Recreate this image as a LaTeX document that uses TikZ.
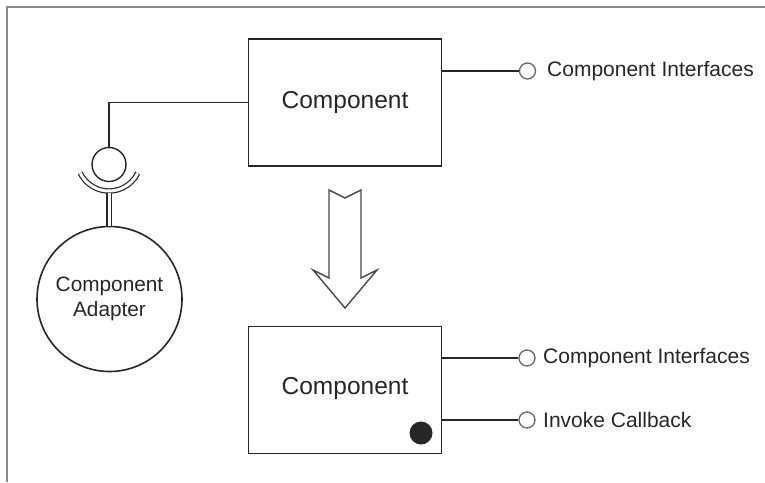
\documentclass[tikz,border=0pt]{standalone}
\usepackage{fontspec}
\setmainfont{Liberation Sans}
\usetikzlibrary{calc}
\definecolor{ink}{HTML}{262626}
\definecolor{frame}{HTML}{8C8C8C}
\tikzset{
  wire/.style={draw=ink, line width=1.6pt},
  compbox/.style={draw=ink, line width=1.8pt, rectangle, minimum width=193pt, minimum height=127pt,
    inner sep=0pt, font=\fontsize{24.5}{28}\selectfont, text=ink},
  iface/.style={draw=ink!70, line width=1.3pt, circle, minimum size=16pt, inner sep=0pt, fill=white},
  ifacelabel/.style={anchor=west, inner sep=0pt, font=\fontsize{21}{24}\selectfont, text=ink},
  adapterstyle/.style={draw=ink, line width=1.6pt, circle, minimum size=145pt, inner sep=0pt,
    align=center, font=\fontsize{20.8}{25}\selectfont, text=ink},
  socket/.style={draw=ink, double=white, line width=1.2pt},
}
\begin{document}
\begin{tikzpicture}[x=1pt, y=-1pt]
  \useasboundingbox (0,0) rectangle (765,482);
  % page frame (top and left edges)
  \draw[draw=frame, line width=2.2pt] (765,7) -- (7,7) -- (7,482);

  % upper component
  \node[compbox] (topbox) at (345,102.5) {Component};
  \node[iface] (if1) at (527.5,71) {};
  \node[ifacelabel] (lab1) at (547,71) {Component Interfaces};
  \draw[wire] (topbox.east |- if1) -- (if1.west);

  % adapter with ball and socket
  \node[adapterstyle] (adapter) at (109.5,299) {Component\\Adapter};
  \node[draw=ink, line width=1.4pt, circle, minimum size=34pt, inner sep=0pt] (ball) at (109,164.5) {};
  \draw[wire] (topbox.west) -| (ball.north);
  \coordinate (cupc) at (109,159);
  \draw[socket, double distance=3pt]
    ($(cupc)+(154:32)$) arc[start angle=154, end angle=26, radius=32];
  \draw[socket, double distance=3pt] (109,192.5) -- (adapter.north -| 109,0);

  % hollow transformation arrow
  \draw[draw=ink!85, line width=1.4pt, fill=white]
    (329,190) -- (345,198) -- (361,190) -- (361,278) -- (377,270) -- (345,308)
    -- (313,270) -- (329,278) -- cycle;

  % lower component
  \node[compbox] (botbox) at (345,390) {};
  \node[font=\fontsize{24.5}{28}\selectfont, text=ink, inner sep=0pt] (botlabel) at (345,388) {Component};
  \node[circle, fill=ink, draw=none, minimum size=23pt, inner sep=0pt] (dot) at (421,433) {};
  \node[iface] (if2) at (527,358) {};
  \node[ifacelabel] (lab2) at (543,358) {Component Interfaces};
  \draw[wire] (botbox.east |- if2) -- (if2.west);
  \node[iface] (if3) at (527,420) {};
  \node[ifacelabel] (lab3) at (543,420) {Invoke Callback};
  \draw[wire] (botbox.east |- if3) -- (if3.west);
\end{tikzpicture}
\end{document}
